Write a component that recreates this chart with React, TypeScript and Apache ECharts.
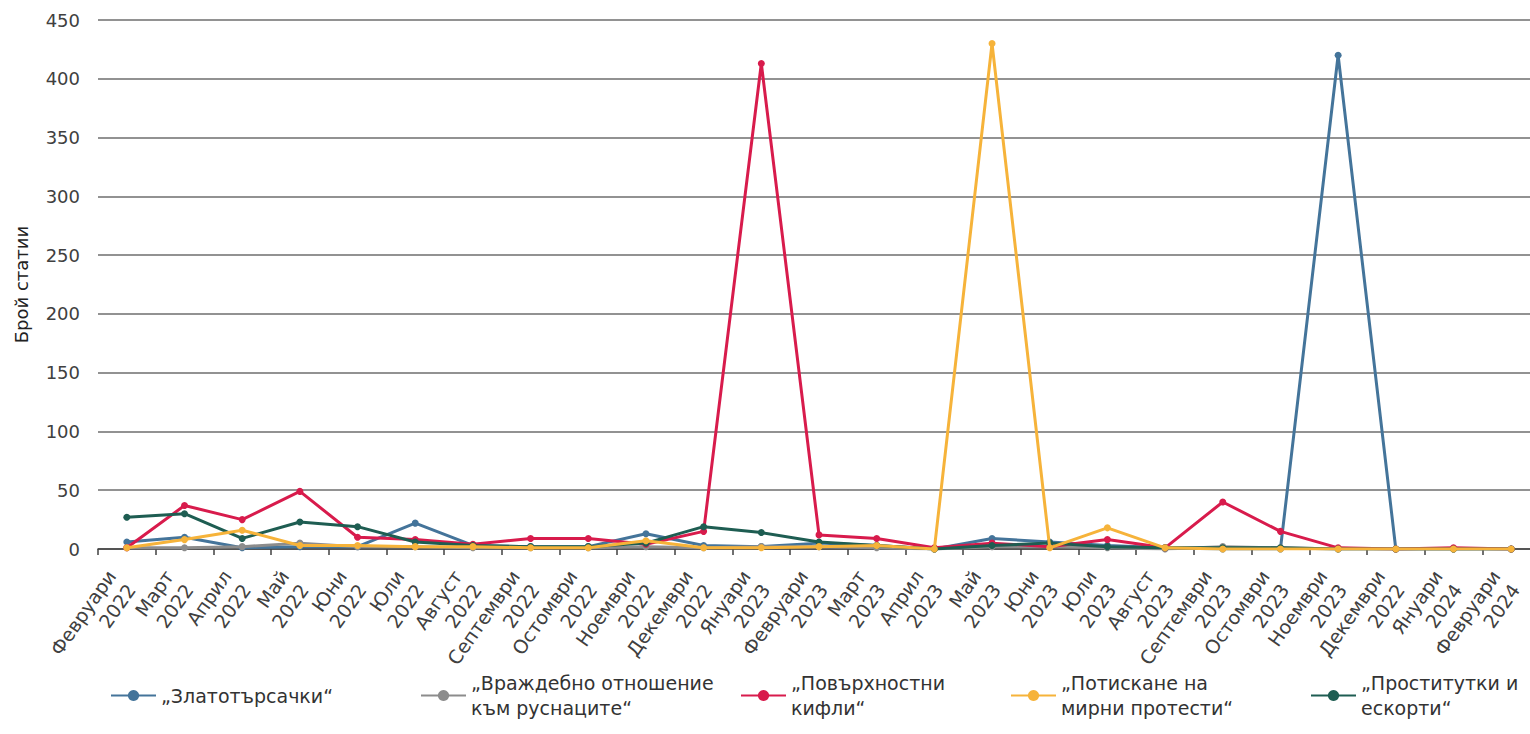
import React, { useEffect, useRef } from "react";
import * as echarts from "echarts";

const categories = [
  "Февруари\n2022", "Март\n2022", "Април\n2022", "Май\n2022", "Юни\n2022", "Юли\n2022",
  "Август\n2022", "Септември\n2022", "Остомври\n2022", "Ноември\n2022", "Декември\n2022",
  "Януари\n2023", "Февруари\n2023", "Март\n2023", "Април\n2023", "Май\n2023", "Юни\n2023",
  "Юли\n2023", "Август\n2023", "Септември\n2023", "Остомври\n2023", "Ноември\n2023",
  "Декември\n2022", "Януари\n2024", "Февруари\n2024",
];

const seriesNames = [
  "„Златотърсачки“",
  "„Враждебно отношение\nкъм руснаците“",
  "„Повърхностни\nкифли“",
  "„Потискане на\nмирни протести“",
  "„Проститутки и\nескорти“",
];

const colors = ["#44749A", "#8C8C8C", "#D81B4C", "#F6B33A", "#1E5D52"];

const zlatotarsachki = [6, 10, 1, 2, 2, 22, 3, 2, 2, 13, 3, 2, 5, 3, 0, 9, 6, 3, 1, 0, 0, 420, 0, 0, 0];
const vrazhdebno = [1, 1, 2, 5, 2, 2, 1, 1, 1, 2, 1, 2, 2, 1, 0, 2, 2, 1, 0, 2, 1, 0, 0, 0, 0];
const kifli = [1, 37, 25, 49, 10, 8, 4, 9, 9, 4, 15, 413, 12, 9, 1, 5, 2, 8, 1, 40, 15, 1, 0, 1, 0];
const protesti = [1, 8, 16, 3, 3, 2, 2, 1, 1, 7, 1, 1, 2, 3, 0, 430, 1, 18, 1, 0, 0, 0, 0, 0, 0];
const eskorti = [27, 30, 9, 23, 19, 6, 3, 2, 2, 5, 19, 14, 6, 3, 0, 3, 5, 2, 1, 1, 1, 0, 0, 0, 0];

const yTicks = { min: 0, max: 450, interval: 50 };

const legendLeft = [110, 420, 740, 1010, 1310];

export default function App() {
  const ref = useRef<HTMLDivElement>(null);

  useEffect(() => {
    if (!ref.current) return;
    const chart = echarts.init(ref.current, undefined, { renderer: "svg" });
    const font = "DejaVu Sans";
    const allData = [zlatotarsachki, vrazhdebno, kifli, protesti, eskorti];
    const series = allData.map((d, i) => ({
      name: seriesNames[i],
      type: "line",
      data: d,
      symbol: "circle",
      symbolSize: 7,
      z: i === 3 ? 4 : 2 + i * 0.1,
      lineStyle: { width: 3, color: colors[i] },
      itemStyle: { color: colors[i] },
    }));
    const legends = seriesNames.map((n, i) => {
      const twoLine = n.includes("\n");
      return {
        left: legendLeft[i],
        top: twoLine ? 658 : 683,
        orient: "horizontal",
        padding: 0,
        itemWidth: 45,
        itemHeight: 14,
        itemGap: 4,
        data: [
          {
            name: n,
            textStyle: twoLine ? { padding: [25, 0, 0, 0] } : {},
          },
        ],
        textStyle: { fontFamily: font, fontSize: 19, color: "#333333", lineHeight: 25 },
      };
    });
    chart.setOption({
      animation: false,
      color: colors,
      grid: { left: 98, top: 20, width: 1442, height: 529, containLabel: false },
      legend: legends,
      xAxis: {
        type: "category",
        data: categories,
        boundaryGap: true,
        axisLine: { lineStyle: { color: "#404040", width: 1.5 } },
        axisTick: { show: true, interval: 0, length: 6, lineStyle: { color: "#404040", width: 1.5 } },
        axisLabel: {
          interval: 0,
          rotate: 55,
          fontFamily: font,
          fontSize: 19,
          lineHeight: 24,
          color: "#404040",
          margin: 22,
          padding: [0, 10, 0, 0],
        },
      },
      yAxis: {
        type: "value",
        min: yTicks.min,
        max: yTicks.max,
        interval: yTicks.interval,
        name: "Брой статии",
        nameLocation: "middle",
        nameGap: 68,
        nameTextStyle: { fontFamily: font, fontSize: 18, color: "#222222" },
        axisLine: { show: false },
        axisTick: { show: false },
        axisLabel: { fontFamily: font, fontSize: 18, color: "#404040", margin: 18 },
        splitLine: { lineStyle: { color: "#6E6E6E", width: 1.5 } },
      },
      series,
    });
    return () => chart.dispose();
  }, []);

  return (
    <div style={{ position: "absolute", left: 0, top: 0, width: 1530, height: 734, overflow: "hidden", background: "#ffffff" }}>
      <div ref={ref} style={{ width: 1560, height: 734 }} />
    </div>
  );
}
